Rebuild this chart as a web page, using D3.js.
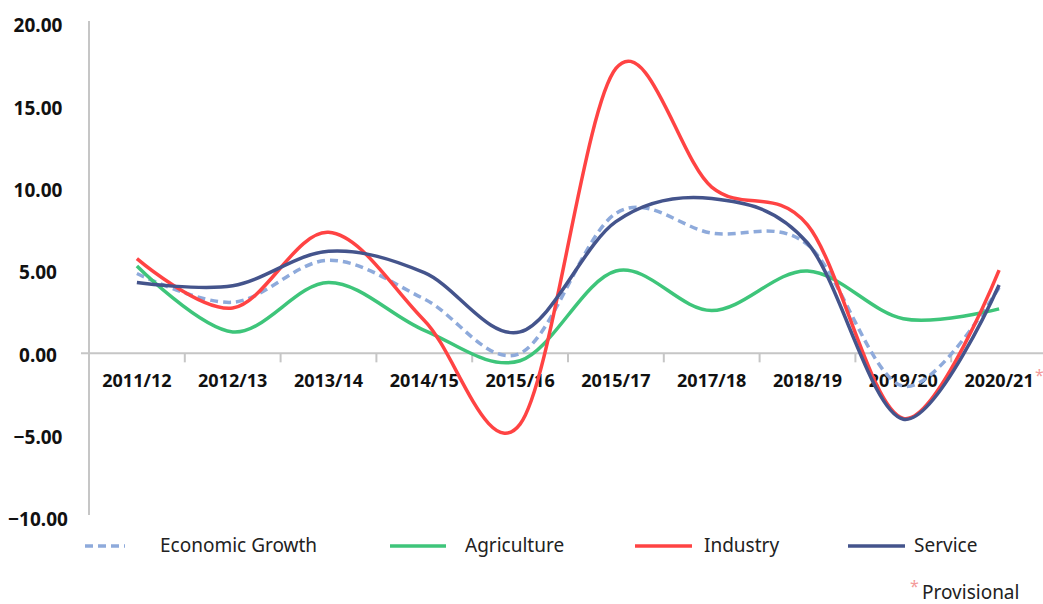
<!DOCTYPE html>
<html>
<head>
<meta charset="utf-8">
<script src="https://cdn.jsdelivr.net/npm/d3@7"></script>
<style>
  body{margin:0;background:#fff;}
  svg{display:block;font-family:"Noto Sans",sans-serif;}
</style>
</head>
<body>
<svg id="chart" width="1043" height="604"></svg>
<script>
var years=['2011/12','2012/13','2013/14','2014/15','2015/16','2015/17','2017/18','2018/19','2019/20','2020/21'];
var growth=[4.85,3.1,5.65,3.3,0.0,8.5,7.3,6.6,-2.0,4.0];
var agriculture=[5.3,1.3,4.3,1.4,-0.45,5.0,2.6,5.0,2.1,2.7];
var industry=[5.75,2.75,7.35,2.0,-4.3,17.3,10.1,7.8,-3.95,5.05];
var service=[4.3,4.1,6.2,4.9,1.3,8.0,9.4,6.7,-4.0,4.15];
var yTicks=[20,15,10,5,0,-5,-10];
var seriesNames=['Economic Growth','Agriculture','Industry','Service'];

var colors={'Economic Growth':'#8eaadb','Agriculture':'#3ec57a','Industry':'#ff4343','Service':'#44548c'};
var allSeries=[
  {name:'Economic Growth',values:growth,dash:'8,5'},
  {name:'Agriculture',values:agriculture,dash:null},
  {name:'Industry',values:industry,dash:null},
  {name:'Service',values:service,dash:null}
];

var svg=d3.select('#chart');

var x=d3.scaleBand().domain(years).range([89,1047]).padding(0);
var y=d3.scaleLinear().domain([-10,20]).range([518,24]);

// axes lines
svg.append('line')
  .attr('x1',89).attr('x2',89)
  .attr('y1',y(20)-3).attr('y2',y(-10)-3)
  .attr('stroke','#c6c6c6').attr('stroke-width',2);
svg.append('line')
  .attr('x1',81).attr('x2',1043)
  .attr('y1',y(0)).attr('y2',y(0))
  .attr('stroke','#c6c6c6').attr('stroke-width',2);

// tick marks at category boundaries
svg.selectAll('.xtick').data(years.slice(1)).enter().append('line')
  .attr('class','xtick')
  .attr('x1',function(d){return x(d);})
  .attr('x2',function(d){return x(d);})
  .attr('y1',y(0)).attr('y2',y(0)+9)
  .attr('stroke','#c6c6c6').attr('stroke-width',2);

// y labels (centred like the original)
svg.selectAll('.ylab').data(yTicks).enter().append('text')
  .attr('class','ylab')
  .attr('x',38)
  .attr('y',function(d){return y(d)+3;})
  .attr('text-anchor','middle')
  .attr('dominant-baseline','middle')
  .style('font-weight','bold')
  .style('font-size','19px')
  .attr('fill','#111')
  .text(function(d){return d3.format('.2f')(d);});

// x labels
svg.selectAll('.xlab').data(years).enter().append('text')
  .attr('class','xlab')
  .attr('x',function(d){return x(d)+x.bandwidth()/2;})
  .attr('y',y(0)+29)
  .attr('text-anchor','middle')
  .attr('dominant-baseline','middle')
  .style('font-weight','bold')
  .style('font-size','18px')
  .attr('fill','#111')
  .text(function(d){return d;});

// lines
var line=d3.line()
  .x(function(d,i){return x(years[i])+x.bandwidth()/2;})
  .y(function(d){return y(d);})
  .curve(d3.curveCardinal.tension(0));

allSeries.forEach(function(s){
  svg.append('path')
    .attr('d',line(s.values))
    .attr('fill','none')
    .attr('stroke',colors[s.name])
    .attr('stroke-width',3.5)
    .attr('stroke-dasharray',s.dash);
});

// legend
var legX=[[85,125,160],[390,446,465],[635,692,704],[848,905,914]];
var legY=546;
allSeries.forEach(function(s,i){
  svg.append('line')
    .attr('x1',legX[i][0]).attr('x2',legX[i][1])
    .attr('y1',legY).attr('y2',legY)
    .attr('stroke',colors[s.name])
    .attr('stroke-width',3.5)
    .attr('stroke-dasharray',s.dash);
  svg.append('text')
    .attr('x',legX[i][2]).attr('y',legY+1)
    .attr('dominant-baseline','middle')
    .style('font-size','19px')
    .attr('fill','#222')
    .text(seriesNames[i]);
});

// provisional note
svg.append('text')
  .attr('x',1035).attr('y',381)
  .style('font-size','16px').attr('fill','#f49a9a')
  .text('*');
svg.append('text')
  .attr('x',910).attr('y',592)
  .style('font-size','16px').attr('fill','#f49a9a')
  .text('*');
svg.append('text')
  .attr('x',922).attr('y',599)
  .style('font-size','19px').attr('fill','#222')
  .text('Provisional');
</script>
</body>
</html>
